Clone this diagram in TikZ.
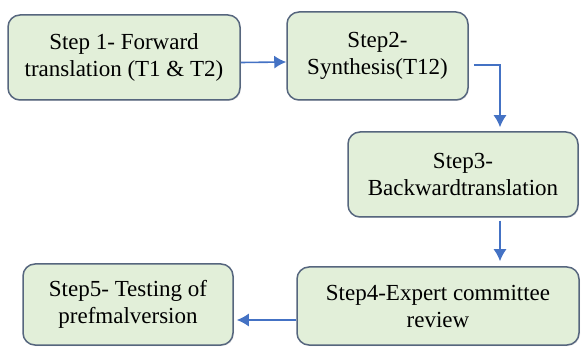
\documentclass[tikz,border=0pt]{standalone}
\usepackage{fontspec}
\setmainfont{Liberation Serif}
\newfontfamily\stepfont{Liberation Serif}
\usepackage{tikz}
\usetikzlibrary{shadows}
\usetikzlibrary{arrows,arrows.meta,shapes}
\usetikzlibrary{calc}
\definecolor{boxfill}{HTML}{E2EFD9}
\definecolor{boxline}{HTML}{56667E}
\definecolor{arrowblue}{HTML}{4472C4}
\tikzstyle{stepbox}=[rectangle,rounded corners=12pt,draw=boxline,line width=1.5pt,fill=boxfill,
    drop shadow={opacity=0.2,shadow xshift=1pt,shadow yshift=-1pt},
    align=center,inner sep=0pt,font=\stepfont\fontsize{23}{27}\selectfont]
\tikzstyle{edge} = [draw,line width=1.6pt,arrowblue,-{Latex[length=12pt,width=13pt]}]

\begin{document}
\begin{tikzpicture}[x=1pt,y=-1pt]
    \useasboundingbox (0,0) rectangle (581,347);
    % First we draw the steps
    \foreach \pos/ \name/ \w/ \h/ \txt in {{(124,57.5)/S1/232/85/{Step 1- Forward\\translation (T1 \& T2)}},
        {(377.5,56)/S2/181/88/{Step2-\\Synthesis(T12)}},
        {(463,174.5)/S3/230/85/{Step3-\\Backwardtranslation}},
        {(438,306)/S4/282/78/{Step4-Expert committee\\review}},
        {(128,304.5)/S5/210/81/{Step5- Testing of\\prefmalversion}}}
        \node[stepbox,minimum width=\w pt,minimum height=\h pt] (\name) at \pos {\txt};

    % Connect steps with arrows
    \path[edge] ([yshift=-5pt]S1.east) -- ([yshift=-6pt]S2.west);
    \path[edge] ([xshift=5pt,yshift=-9pt]S2.east) -| ([xshift=37pt,yshift=4pt]S3.north);
    \path[edge] ([xshift=37pt,yshift=-3pt]S3.south) -- ([xshift=62pt,yshift=5pt]S4.north);
    \path[edge] ([yshift=-14pt]S4.west) -- ([xshift=3pt,yshift=-15.5pt]S5.east);
\end{tikzpicture}
\end{document}
